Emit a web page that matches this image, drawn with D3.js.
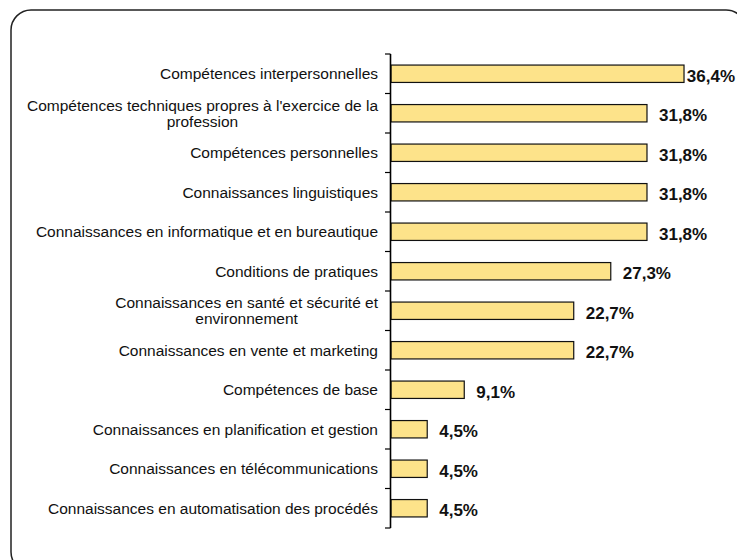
<!DOCTYPE html>
<html><head><meta charset="utf-8">
<script src="https://cdn.jsdelivr.net/npm/d3@7"></script>
<style>body{margin:0;background:#fff}svg{display:block}</style>
</head><body><svg id="c" width="737" height="560"></svg>
<script>
const categories = [
  ["Compétences interpersonnelles"],
  ["Compétences techniques propres à l'exercice de la", "profession"],
  ["Compétences personnelles"],
  ["Connaissances linguistiques"],
  ["Connaissances en informatique et en bureautique"],
  ["Conditions de pratiques"],
  ["Connaissances en santé et sécurité et", "environnement"],
  ["Connaissances en vente et marketing"],
  ["Compétences de base"],
  ["Connaissances en planification et gestion"],
  ["Connaissances en télécommunications"],
  ["Connaissances en automatisation des procédés"]
];
const values = [36.4, 31.8, 31.8, 31.8, 31.8, 27.3, 22.7, 22.7, 9.1, 4.5, 4.5, 4.5];
const valueLabels = ["36,4%", "31,8%", "31,8%", "31,8%", "31,8%", "27,3%", "22,7%", "22,7%", "9,1%", "4,5%", "4,5%", "4,5%"];

const W = 737, H = 560;
const svg = d3.select("#c");
const font = "'Liberation Sans', Arial, sans-serif";

svg.append("rect").attr("x", 11).attr("y", 10).attr("width", 735).attr("height", 562)
  .attr("rx", 20).attr("fill", "#fff").attr("stroke", "#222").attr("stroke-width", 1.5);

const keys = categories.map((c, i) => i);
const y = d3.scaleBand().domain(keys).range([54, 528]).paddingInner(0).paddingOuter(0);
const x = d3.scaleLinear().domain([0, 40]).range([391, 713]);
const barH = y.bandwidth() * 0.44;

// bars
svg.append("g").selectAll("rect").data(values).join("rect")
  .attr("x", x(0))
  .attr("y", (d, i) => y(i) + (y.bandwidth() - barH) / 2)
  .attr("width", d => x(d) - x(0))
  .attr("height", barH)
  .attr("fill", "#FDE38A").attr("stroke", "#111").attr("stroke-width", 1.2);

// axis line and ticks (between categories)
const ax = svg.append("g");
ax.append("line").attr("x1", 390.5).attr("x2", 390.5).attr("y1", y.range()[0]).attr("y2", y.range()[1])
  .attr("stroke", "#000").attr("stroke-width", 1.6);
const tickYs = keys.map(k => y(k)).concat([y.range()[1]]);
ax.selectAll("line.t").data(tickYs).join("line").attr("class", "t")
  .attr("x1", 385).attr("x2", 390.5).attr("y1", d => d).attr("y2", d => d)
  .attr("stroke", "#000").attr("stroke-width", 1.2);

// category labels
const lab = svg.append("g").attr("font-family", font).attr("font-size", 15.5).attr("fill", "#111");
categories.forEach((lines, i) => {
  const cy = y(i) + y.bandwidth() / 2;
  if (lines.length === 1) {
    lab.append("text").attr("x", 378).attr("y", cy).attr("dy", "0.35em")
      .attr("text-anchor", "end").text(lines[0]);
  } else {
    const t = lab.append("text").attr("text-anchor", "middle");
    const tmp = t.append("tspan").text(lines[0]);
    const w = tmp.node().getComputedTextLength();
    tmp.remove();
    const mid = 378 - w / 2;
    lines.forEach((ln, j) => {
      t.append("tspan").attr("x", mid).attr("y", cy + (j - (lines.length - 1) / 2) * 16)
        .attr("dy", "0.35em").text(ln);
    });
  }
});

// value labels
const vl = svg.append("g").attr("font-family", font).attr("font-size", 17).attr("font-weight", "bold").attr("fill", "#111");
values.forEach((v, i) => {
  const t = vl.append("text").attr("y", y(i) + y.bandwidth() / 2 + 2).attr("dy", "0.35em").text(valueLabels[i]);
  const w = t.node().getComputedTextLength();
  t.attr("x", Math.min(x(v) + 12, W - 2 - w));
});
</script></body></html>
